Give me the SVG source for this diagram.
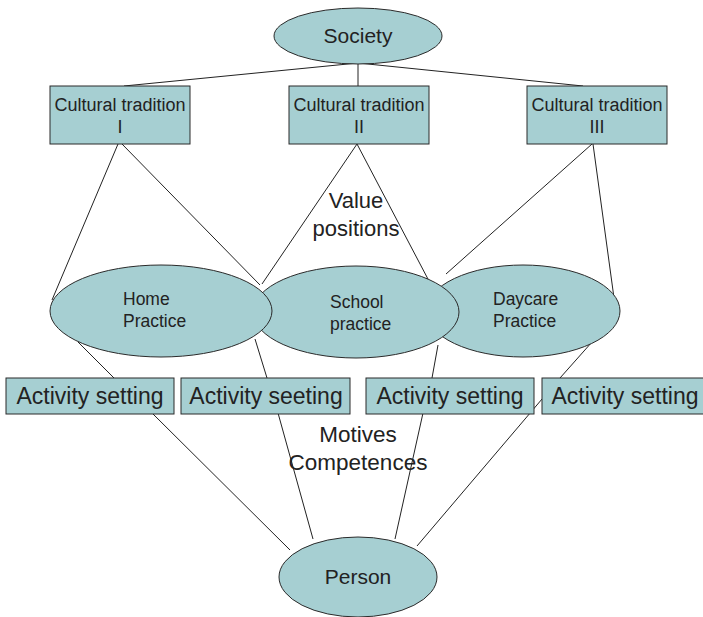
<svg xmlns="http://www.w3.org/2000/svg" width="703" height="617" viewBox="0 0 703 617">
<style>
.n{fill:#a6cfd2;stroke:#2a2a2a;stroke-width:1}
.t{font-family:"Liberation Sans",Arial,sans-serif;fill:#222}
.c line{stroke:#222;stroke-width:1}
</style>
<rect width="703" height="617" fill="#fff"/>
<g id="connectors" class="c">
<line x1="358" y1="63" x2="124" y2="86"/>
<line x1="358" y1="63" x2="358" y2="86"/>
<line x1="358" y1="63" x2="583" y2="86"/>
<line x1="118" y1="144" x2="52" y2="300"/>
<line x1="122" y1="144" x2="260" y2="285"/>
<line x1="357" y1="144" x2="262" y2="284"/>
<line x1="357" y1="144" x2="429" y2="281"/>
<line x1="592" y1="144" x2="446" y2="274"/>
<line x1="593" y1="144" x2="614" y2="298"/>
<line x1="78" y1="342" x2="114" y2="378"/>
<line x1="255" y1="339" x2="267" y2="378"/>
<line x1="438" y1="345" x2="432" y2="378"/>
<line x1="592" y1="342" x2="560" y2="378"/>
<line x1="152" y1="413" x2="290" y2="550"/>
<line x1="278" y1="413" x2="313" y2="539"/>
<line x1="423" y1="413" x2="395" y2="539"/>
<line x1="548" y1="392" x2="417" y2="546"/>
</g>
<g id="society"><ellipse class="n" cx="358" cy="36" rx="84" ry="28"/><text class="t" x="358" y="43" font-size="21" text-anchor="middle">Society</text></g>
<g id="ct1"><rect class="n" x="50" y="86" width="140" height="58"/><text class="t" font-size="18" text-anchor="middle"><tspan x="120" y="111">Cultural tradition</tspan><tspan x="120" y="133">I</tspan></text></g>
<g id="ct2"><rect class="n" x="289" y="86" width="140" height="58"/><text class="t" font-size="18" text-anchor="middle"><tspan x="359" y="111">Cultural tradition</tspan><tspan x="359" y="133">II</tspan></text></g>
<g id="ct3"><rect class="n" x="527" y="86" width="140" height="58"/><text class="t" font-size="18" text-anchor="middle"><tspan x="597" y="111">Cultural tradition</tspan><tspan x="597" y="133">III</tspan></text></g>
<g id="value-positions"><text class="t" font-size="22" text-anchor="middle"><tspan x="356" y="208">Value</tspan><tspan x="356" y="236">positions</tspan></text></g>
<g id="daycare"><ellipse class="n" cx="523" cy="311" rx="97" ry="46"/><text class="t" font-size="17.5"><tspan x="493" y="305">Daycare</tspan><tspan x="493" y="327">Practice</tspan></text></g>
<g id="school"><ellipse class="n" cx="356" cy="312" rx="103" ry="46"/><text class="t" font-size="17.5"><tspan x="330" y="308">School</tspan><tspan x="330" y="330">practice</tspan></text></g>
<g id="home"><ellipse class="n" cx="161" cy="311" rx="111" ry="46"/><text class="t" font-size="17.5"><tspan x="123" y="305">Home</tspan><tspan x="123" y="327">Practice</tspan></text></g>
<g id="as1"><rect class="n" x="6" y="378" width="168" height="36"/><text class="t" x="90" y="404" font-size="23" text-anchor="middle">Activity setting</text></g>
<g id="as2"><rect class="n" x="181" y="378" width="169" height="36"/><text class="t" x="266" y="404" font-size="23" text-anchor="middle">Activity seeting</text></g>
<g id="as3"><rect class="n" x="366" y="378" width="168" height="36"/><text class="t" x="450" y="404" font-size="23" text-anchor="middle">Activity setting</text></g>
<g id="as4"><rect class="n" x="542" y="378" width="168" height="36"/><text class="t" x="625" y="404" font-size="23" text-anchor="middle">Activity setting</text></g>
<g id="motives"><text class="t" font-size="22.5" text-anchor="middle"><tspan x="358" y="442">Motives</tspan><tspan x="358" y="470">Competences</tspan></text></g>
<g id="person"><ellipse class="n" cx="358" cy="577" rx="79" ry="40"/><text class="t" x="358" y="584" font-size="21" text-anchor="middle">Person</text></g>
</svg>
